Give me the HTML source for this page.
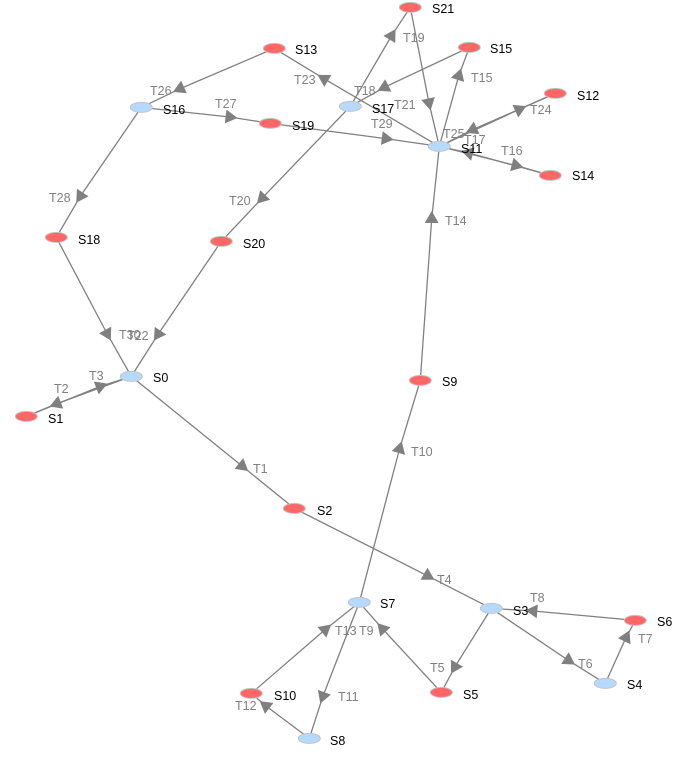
<!DOCTYPE html>
<html><head><meta charset="utf-8"><style>
html,body{margin:0;padding:0;background:#fff}
svg{display:block}
text{font-family:"Liberation Sans",sans-serif;font-size:12.5px}
.t text{fill:#808080}
.n text{fill:#000}
.e polyline{stroke:#808080;stroke-width:1.3;fill:none}
.a polygon{fill:#808080}
.b ellipse{fill:#b5d9ff;stroke:#c4c4c4;stroke-width:1}
.r ellipse{fill:#ff6666;stroke:#c4c4c4;stroke-width:1}
</style></head><body>
<svg width="684" height="769" viewBox="0 0 684 769" xmlns="http://www.w3.org/2000/svg">
<g class="e">
<polyline points="131.3,376.4 242,466 294.3,508.4"/>
<polyline points="131.3,376.4 57,403.6 26.3,416.4"/>
<polyline points="26.3,416.4 100,386.5 131.3,376.4"/>
<polyline points="294.3,508.4 427.5,575.8 491.3,608.4"/>
<polyline points="491.3,608.4 455,666.7 441.3,692.4"/>
<polyline points="491.3,608.4 568.3,660.3 605.3,683.4"/>
<polyline points="605.3,683.4 626,637.6 635.3,620.4"/>
<polyline points="635.3,620.4 533.3,611 491.3,608.4"/>
<polyline points="441.3,692.4 382.7,629 359.3,602.4"/>
<polyline points="359.3,602.4 399.5,449 420.3,380.4"/>
<polyline points="359.3,602.4 323,696 309.3,738.4"/>
<polyline points="309.3,738.4 266,706 251.3,693.4"/>
<polyline points="251.3,693.4 325,629.7 359.3,602.4"/>
<polyline points="420.3,380.4 431.7,219 439.3,146.4"/>
<polyline points="439.3,146.4 458.7,76 469.3,47.4"/>
<polyline points="439.3,146.4 515.7,165.4 550.3,175.4"/>
<polyline points="550.3,175.4 469,153 439.3,146.4"/>
<polyline points="469.3,47.4 384.7,87.2 350.3,106.4"/>
<polyline points="350.3,106.4 391.4,36 410.3,7.4"/>
<polyline points="350.3,106.4 262.4,197.8 221.3,241.4"/>
<polyline points="410.3,7.4 428.9,102.5 439.3,146.4"/>
<polyline points="221.3,241.4 158.3,334 131.3,376.4"/>
<polyline points="439.3,146.4 324.4,78.9 274.3,48.4"/>
<polyline points="439.3,146.4 519,109.5 555.3,93.4"/>
<polyline points="555.3,93.4 473,129.5 439.3,146.4"/>
<polyline points="274.3,48.4 180.3,88.6 141.3,107.4"/>
<polyline points="141.3,107.4 229.6,117 270.3,123.4"/>
<polyline points="141.3,107.4 80.6,195.9 56.3,237.4"/>
<polyline points="270.3,123.4 385.8,138.6 439.3,146.4"/>
<polyline points="56.3,237.4 107,333.5 131.3,376.4"/>
</g>
<g class="a">
<polygon points="8,0 -4,-6.93 -4,6.93" transform="translate(242,466) rotate(39)"/>
<polygon points="8,0 -4,-6.93 -4,6.93" transform="translate(57,403.6) rotate(159)"/>
<polygon points="8,0 -4,-6.93 -4,6.93" transform="translate(100,386.5) rotate(-21)"/>
<polygon points="8,0 -4,-6.93 -4,6.93" transform="translate(427.5,575.8) rotate(30)"/>
<polygon points="8,0 -4,-6.93 -4,6.93" transform="translate(455,666.7) rotate(120)"/>
<polygon points="8,0 -4,-6.93 -4,6.93" transform="translate(568.3,660.3) rotate(33)"/>
<polygon points="8,0 -4,-6.93 -4,6.93" transform="translate(626,637.6) rotate(-64.5)"/>
<polygon points="8,0 -4,-6.93 -4,6.93" transform="translate(533.3,611) rotate(185)"/>
<polygon points="8,0 -4,-6.93 -4,6.93" transform="translate(382.7,629) rotate(227.7)"/>
<polygon points="8,0 -4,-6.93 -4,6.93" transform="translate(399.5,449) rotate(-74.6)"/>
<polygon points="8,0 -4,-6.93 -4,6.93" transform="translate(323,696) rotate(110)"/>
<polygon points="8,0 -4,-6.93 -4,6.93" transform="translate(266,706) rotate(218)"/>
<polygon points="8,0 -4,-6.93 -4,6.93" transform="translate(325,629.7) rotate(-40)"/>
<polygon points="8,0 -4,-6.93 -4,6.93" transform="translate(431.7,219) rotate(-90)"/>
<polygon points="8,0 -4,-6.93 -4,6.93" transform="translate(458.7,76) rotate(-73)"/>
<polygon points="8,0 -4,-6.93 -4,6.93" transform="translate(515.7,165.4) rotate(14.6)"/>
<polygon points="8,0 -4,-6.93 -4,6.93" transform="translate(469,153) rotate(194.6)"/>
<polygon points="8,0 -4,-6.93 -4,6.93" transform="translate(384.7,87.2) rotate(153.6)"/>
<polygon points="8,0 -4,-6.93 -4,6.93" transform="translate(391.4,36) rotate(-58.8)"/>
<polygon points="8,0 -4,-6.93 -4,6.93" transform="translate(262.4,197.8) rotate(133.7)"/>
<polygon points="8,0 -4,-6.93 -4,6.93" transform="translate(428.9,102.5) rotate(78)"/>
<polygon points="8,0 -4,-6.93 -4,6.93" transform="translate(158.3,334) rotate(123.7)"/>
<polygon points="8,0 -4,-6.93 -4,6.93" transform="translate(324.4,78.9) rotate(210.7)"/>
<polygon points="8,0 -4,-6.93 -4,6.93" transform="translate(519,109.5) rotate(-24.6)"/>
<polygon points="8,0 -4,-6.93 -4,6.93" transform="translate(473,129.5) rotate(155.4)"/>
<polygon points="8,0 -4,-6.93 -4,6.93" transform="translate(180.3,88.6) rotate(156)"/>
<polygon points="8,0 -4,-6.93 -4,6.93" transform="translate(229.6,117) rotate(7)"/>
<polygon points="8,0 -4,-6.93 -4,6.93" transform="translate(80.6,195.9) rotate(123)"/>
<polygon points="8,0 -4,-6.93 -4,6.93" transform="translate(385.8,138.6) rotate(7.7)"/>
<polygon points="8,0 -4,-6.93 -4,6.93" transform="translate(107,333.5) rotate(61.6)"/>
</g>
<g class="b" transform="translate(0.3,0.4)">
<ellipse cx="131" cy="376" rx="11" ry="5"/>
<ellipse cx="491" cy="608" rx="11" ry="5"/>
<ellipse cx="605" cy="683" rx="11" ry="5"/>
<ellipse cx="359" cy="602" rx="11" ry="5"/>
<ellipse cx="309" cy="738" rx="11" ry="5"/>
<ellipse cx="439" cy="146" rx="11" ry="5"/>
<ellipse cx="141" cy="107" rx="11" ry="5"/>
<ellipse cx="350" cy="106" rx="11" ry="5"/>
</g>
<g class="r" transform="translate(0.3,0.4)">
<ellipse cx="26" cy="416" rx="11" ry="5"/>
<ellipse cx="294" cy="508" rx="11" ry="5"/>
<ellipse cx="441" cy="692" rx="11" ry="5"/>
<ellipse cx="635" cy="620" rx="11" ry="5"/>
<ellipse cx="420" cy="380" rx="11" ry="5"/>
<ellipse cx="251" cy="693" rx="11" ry="5"/>
<ellipse cx="555" cy="93" rx="11" ry="5"/>
<ellipse cx="274" cy="48" rx="11" ry="5"/>
<ellipse cx="550" cy="175" rx="11" ry="5"/>
<ellipse cx="469" cy="47" rx="11" ry="5"/>
<ellipse cx="56" cy="237" rx="11" ry="5"/>
<ellipse cx="270" cy="123" rx="11" ry="5"/>
<ellipse cx="221" cy="241" rx="11" ry="5"/>
<ellipse cx="410" cy="7" rx="11" ry="5"/>
</g>
<g class="t">
<text x="253" y="473">T1</text>
<text x="54" y="393">T2</text>
<text x="89" y="380">T3</text>
<text x="437" y="584">T4</text>
<text x="430" y="672">T5</text>
<text x="578" y="668">T6</text>
<text x="638" y="643">T7</text>
<text x="530" y="602">T8</text>
<text x="359" y="635">T9</text>
<text x="411" y="456">T10</text>
<text x="338" y="701">T11</text>
<text x="235" y="710">T12</text>
<text x="335" y="635">T13</text>
<text x="445" y="225">T14</text>
<text x="471" y="82">T15</text>
<text x="501" y="155">T16</text>
<text x="464" y="144">T17</text>
<text x="354" y="95">T18</text>
<text x="403" y="42">T19</text>
<text x="229" y="205">T20</text>
<text x="394" y="109">T21</text>
<text x="127" y="340">T22</text>
<text x="294" y="84">T23</text>
<text x="530" y="114">T24</text>
<text x="443" y="138">T25</text>
<text x="150" y="95">T26</text>
<text x="215" y="108">T27</text>
<text x="49" y="202">T28</text>
<text x="371" y="128">T29</text>
<text x="119" y="339">T30</text>
</g>
<g class="n">
<text x="153" y="382">S0</text>
<text x="48" y="423">S1</text>
<text x="317" y="515">S2</text>
<text x="513" y="615">S3</text>
<text x="627" y="689">S4</text>
<text x="463" y="699">S5</text>
<text x="657" y="626">S6</text>
<text x="380" y="608">S7</text>
<text x="330" y="745">S8</text>
<text x="442" y="386">S9</text>
<text x="274" y="700">S10</text>
<text x="461" y="153">S11</text>
<text x="577" y="100">S12</text>
<text x="295" y="54">S13</text>
<text x="572" y="180">S14</text>
<text x="490" y="53">S15</text>
<text x="163" y="114">S16</text>
<text x="372" y="113">S17</text>
<text x="78" y="244">S18</text>
<text x="292" y="130">S19</text>
<text x="243" y="248">S20</text>
<text x="432" y="13">S21</text>
</g>
</svg>
</body></html>
